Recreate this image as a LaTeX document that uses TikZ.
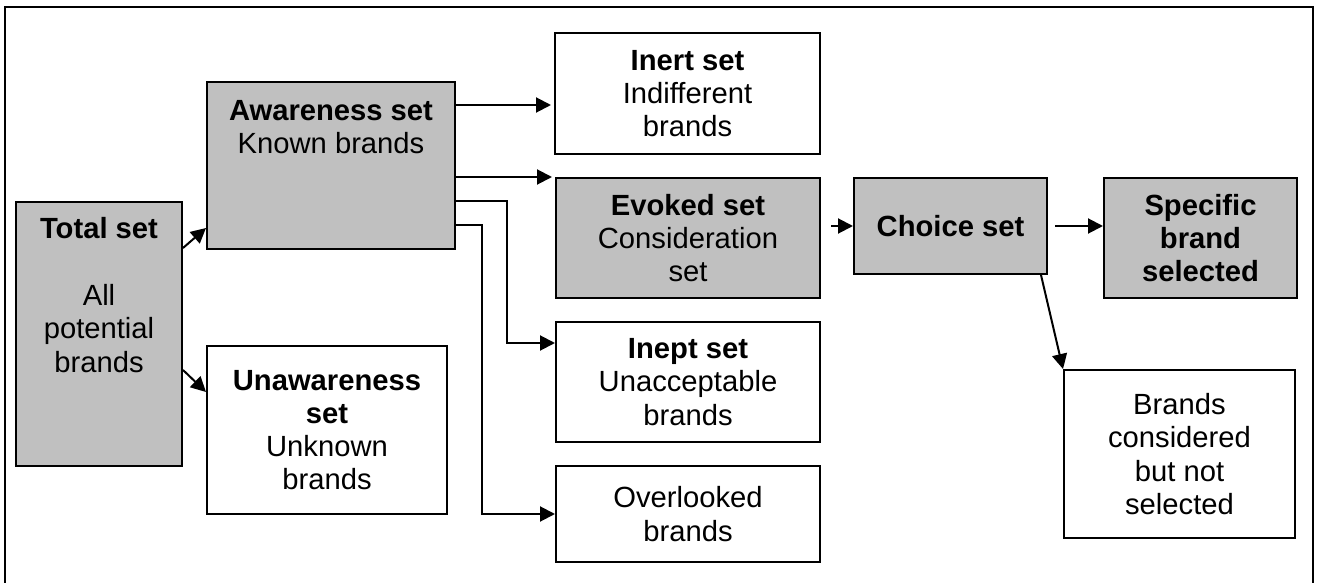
\documentclass[tikz,border=0pt]{standalone}
\usepackage{fontspec}
\setmainfont{Liberation Sans}
\usetikzlibrary{arrows.meta, positioning, calc}
\definecolor{setgray}{RGB}{192,192,192}

\begin{document}
\begin{tikzpicture}[x=0.5pt, y=-0.5pt, >={Triangle[length=7.5pt,width=7.5pt]},
    every node/.style={font=\fontsize{14.6}{16.6}\selectfont, align=center},
    set/.style={draw, line width=1pt, inner sep=0pt},
    gset/.style={set, fill=setgray},
    link/.style={->, line width=1pt}]
    \useasboundingbox (0,0) rectangle (1319,583);
    \draw [line width=1.1pt] (5,7) rectangle (1313,592);

    \node [gset, minimum width=83pt, minimum height=132pt] (total) at (99,334) {};
    \node [inner sep=0pt, anchor=north] (totaltxt) at (99,217) {\textbf{Total set}\\[17pt]All\\potential\\brands};
    \node [gset, minimum width=124pt, minimum height=83.5pt] (aware) at (331,165.5) {};
    \node [inner sep=0pt, anchor=north] (awaretxt) at (331,100) {\textbf{Awareness set}\\Known brands};
    \node [set, minimum width=120pt, minimum height=84pt] (unaware) at (327,430) {\textbf{Unawareness}\\\textbf{set}\\Unknown\\brands};

    \node [set, minimum width=132.5pt, minimum height=60.5pt] (inert) at (687.5,93.5) {\textbf{Inert set}\\Indifferent\\brands};
    \node [gset, minimum width=132pt, minimum height=60pt] (evoked) at (688,238) {\textbf{Evoked set}\\Consideration\\set};
    \node [set, minimum width=132pt, minimum height=60pt] (inept) at (688,382) {\textbf{Inept set}\\Unacceptable\\brands};
    \node [set, minimum width=132pt, minimum height=48pt] (over) at (688,514) {Overlooked\\brands};

    \node [gset, minimum width=96.5pt, minimum height=48pt] (choice) at (950.5,226) {\textbf{Choice set}};
    \node [gset, minimum width=96.5pt, minimum height=60pt] (specific) at (1200.5,238) {\textbf{Specific}\\\textbf{brand}\\\textbf{selected}};
    \node [set, minimum width=115.5pt, minimum height=84pt] (notsel) at (1179.5,454) {Brands\\considered\\but not\\selected};

    % exits on the right side of the awareness set
    \coordinate (a1) at ([yshift=-12pt]aware.north east);
    \coordinate (a2) at ([yshift=-48pt]aware.north east);
    \coordinate (a3) at ([yshift=-60pt]aware.north east);
    \coordinate (a4) at ([yshift=-72pt]aware.north east);
    \coordinate (e1) at ($(evoked.east |- choice.west)+(5pt,0)$);

    \draw [link] ([yshift=-23.5pt]total.north east) -- ([yshift=11pt]aware.south west);
    \draw [link] ([yshift=-18pt]total.east) -- ([yshift=-23.5pt]unaware.north west);
    \draw [link] (a1) -- ([xshift=-1.5pt]a1 -| inert.west);
    \draw [link] (a2) -- ([xshift=-1.5pt]a2 -| evoked.west);
    \draw [link] (a3) -- ++(25.5pt,0) |- ([yshift=-11pt]inept.north west);
    \draw [link] (a4) -- ++(13pt,0) |- (over.west);
    \draw [link] (e1) -- (choice.west);
    \draw [link] ([xshift=3.5pt]choice.east) -- (choice.east -| specific.west);
    \draw [link] ([xshift=-3.5pt]choice.south east) -- (notsel.north west);
\end{tikzpicture}
\end{document}
